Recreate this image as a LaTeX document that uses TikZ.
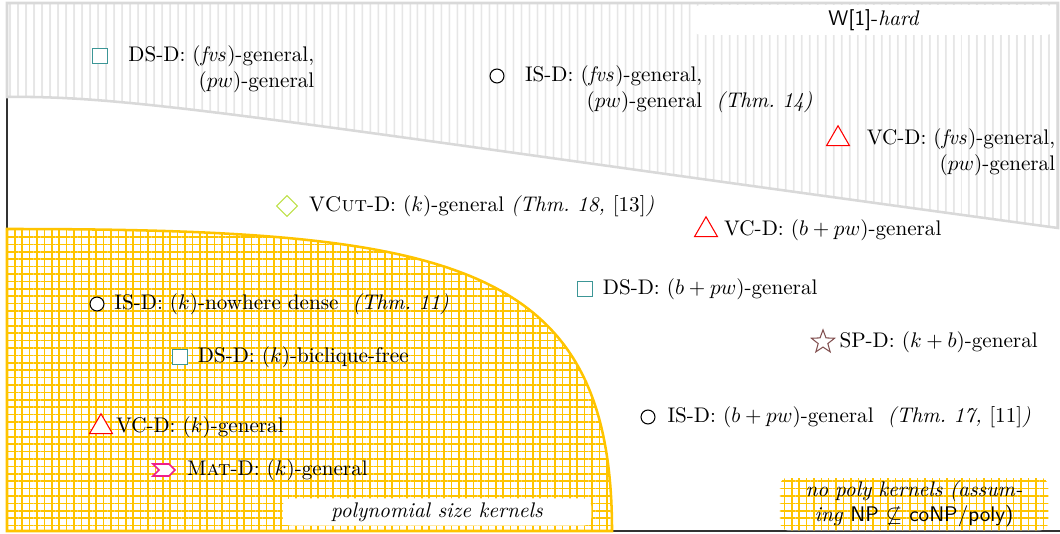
\documentclass[tikz,border=0pt]{standalone}
\usepackage{amsmath}
\usepackage{amssymb}
\usepackage{xcolor}
\usepackage{tikz}
\usetikzlibrary{patterns.meta,positioning,shapes.geometric,shapes.symbols}

\definecolor{kernyellow}{RGB}{255,196,0}
\definecolor{dsteal}{RGB}{60,150,150}
\definecolor{cutlime}{RGB}{190,225,70}
\definecolor{spbrown}{RGB}{130,80,80}
\definecolor{matpink}{RGB}{240,30,140}

\tikzset{
  axisline/.style = {draw=black!80, line width=0.9pt},
  hardzone/.style = {draw=gray!30, line width=1.2pt, preaction={fill=white},
                     pattern={Lines[angle=90,distance=4pt,line width=0.6pt]},
                     pattern color=gray!30},
  kernzone/.style = {draw=kernyellow, line width=1.2pt, preaction={fill=white},
                     pattern={Hatch[angle=0,distance=3.5pt,line width=0.7pt]},
                     pattern color=kernyellow},
  tagbox/.style   = {fill=white, rounded corners=4pt, inner sep=2pt},
  nopolybox/.style= {preaction={fill=white}, rounded corners=4pt, inner sep=1.5pt,
                     pattern={Hatch[angle=0,distance=3.5pt,line width=0.7pt]},
                     pattern color=kernyellow, text width=124pt, align=center},
  entry/.style    = {inner sep=0pt, align=right},
  pmark/.style    = {fill=white, line width=0.5pt, inner sep=0pt},
  dsmark/.style   = {pmark, draw=dsteal, rectangle, minimum size=7pt},
  ismark/.style   = {pmark, draw=black, circle, minimum size=6.6pt},
  vcmark/.style   = {pmark, draw=red, regular polygon, regular polygon sides=3,
                     minimum size=12.5pt},
  cutmark/.style  = {pmark, draw=cutlime, diamond, minimum size=10pt},
  spmark/.style   = {pmark, draw=spbrown, star, star points=5, star point ratio=2.4,
                     minimum size=11.5pt},
  matmark/.style  = {pmark, draw=matpink, line width=0.8pt, signal, signal from=west,
                     signal to=east, minimum width=10.4pt, minimum height=5.7pt},
}

\begin{document}
\begin{tikzpicture}[x=0.473pt, y=-0.473pt]
\useasboundingbox (0,0) rectangle (1060,533);

% ---------------- axes and the two zones ------------------------------
\draw[axisline] (7,3) -- (7,531) -- (1060,531);
\path[hardzone] (7,3) -- (1058,3) -- (1058,228)
  .. controls (300,125) and (140,95) .. (7,97) -- cycle;
\path[kernzone] (7,229) .. controls (450,229) and (612,260) .. (612,531)
  -- (7,531) -- cycle;

\node[tagbox, minimum width=172pt, minimum height=12.3pt] (hard) at (874,20)
  {\textsf{W[1]}-\textit{hard}};
\node[tagbox, minimum width=146pt, minimum height=11.8pt] (poly) at (437,512)
  {\textit{polynomial size kernels}};
\node[nopolybox] (nopoly) at (914,504)
  {\textit{no poly kernels (assum-}\\
   \textit{ing} \textsf{NP} $\not\subseteq$ \textsf{coNP/poly)}};

% ---------------- W[1]-hard -------------------------------------------
\node[dsmark] (m1) at (100,56) {};
\node[entry, right=9.5pt of m1, anchor=north west, yshift=5pt] (t1)
  {DS-D: $(\mathit{fvs})$-general,\\ $(pw)$-general};

\node[ismark] (m2) at (497,76) {};
\node[entry, right=9.5pt of m2, anchor=north west, yshift=5pt] (t2)
  {IS-D: $(\mathit{fvs})$-general,\\ $(pw)$-general\rlap{\ \ \textit{(Thm.~14)}}};

\node[vcmark] (m3) at (838,139) {};
\node[entry, right=9.5pt of m3, anchor=north west, yshift=5pt] (t3)
  {VC-D: $(\mathit{fvs})$-general,\\ $(pw)$-general};

% ---------------- in between ------------------------------------------
\node[cutmark] (m4) at (287,206) {};
\node[entry, right=5pt of m4] (t4)
  {V\textsc{Cut}-D: $(k)$-general \textit{(Thm.~18, \textup{[13]})}};

\node[vcmark] (m5) at (706,230) {};
\node[entry, right=4.5pt of m5] (t5) {VC-D: $(b+pw)$-general};

\node[dsmark] (m6) at (585,289) {};
\node[entry, right=4.5pt of m6] (t6) {DS-D: $(b+pw)$-general};

\node[spmark] (m7) at (823,342) {};
\node[entry, right=4pt of m7] (t7) {SP-D: $(k+b)$-general};

\node[ismark] (m8) at (648,417) {};
\node[entry, right=5.5pt of m8] (t8)
  {IS-D: $(b+pw)$-general\ \ \textit{(Thm.~17, \textup{[11]})}};

% ---------------- polynomial kernels ----------------------------------
\node[ismark] (m9) at (97,304) {};
\node[entry, right=4.5pt of m9] (t9)
  {IS-D: $(k)$-nowhere dense\ \ \textit{(Thm.~11)}};

\node[dsmark] (m10) at (180,357) {};
\node[entry, right=4.5pt of m10] (t10) {DS-D: $(k)$-biclique-free};

\node[vcmark] (m11) at (101,427) {};
\node[entry, right=3pt of m11] (t11) {VC-D: $(k)$-general};

\node[matmark] (m12) at (164,470) {};
\node[entry, right=5pt of m12] (t12) {M\textsc{at}-D: $(k)$-general};

\end{tikzpicture}
\end{document}
